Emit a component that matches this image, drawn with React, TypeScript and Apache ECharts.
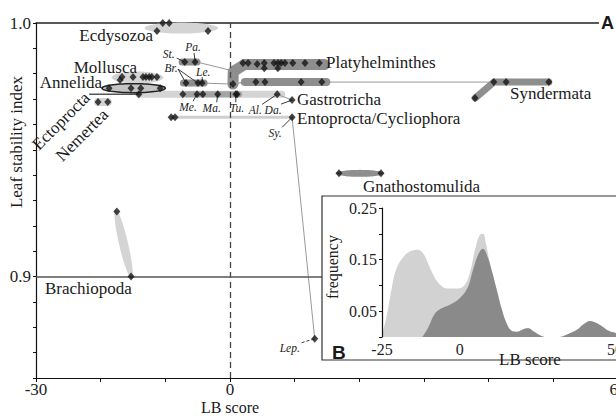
import React, { useEffect, useRef } from "react";
import * as echarts from "echarts";

const SERIF = "'Liberation Serif', 'Times New Roman', Times, serif";
const SANS = "'Liberation Sans', Arial, sans-serif";
const LIGHT = "#d4d4d4";
const MID = "#8e8e8e";

// ---- main panel (A): taxon points [LB score, leaf stability index]
const ecdysozoa = [[-11.3, 0.9968], [-10.4, 1.0], [-9.4, 1.0], [-3.4, 0.9968]];
const mollusca = [[-16.7, 0.9787], [-17.0, 0.9775], [-15.0, 0.9787], [-13.45, 0.9787], [-13.0, 0.9787], [-12.5, 0.9787], [-12.1, 0.9787], [-11.3, 0.9787]];
const annelida = [[-18.7, 0.9743], [-15.3, 0.9743], [-13.8, 0.9743], [-10.8, 0.9743]];
const nemertea = [[-20.4, 0.9688], [-18.9, 0.9688]];
const gastroRow = [[-14.1, 0.9719], [-7.3, 0.9719], [-5.1, 0.9719], [-4.2, 0.9719], [-1.9, 0.9719], [0.9, 0.9719], [1.1, 0.9719], [7.3, 0.9719]];
const gastrotricha = [[9.6, 0.9696]];
const entoprocta = [[-9.1, 0.9628], [-8.5, 0.9628], [9.6, 0.9628]];
const lep = [[13.1, 0.8755]];
const stPa = [[-7.0, 0.9846], [-5.4, 0.9846]];
const brLe = [[-6.8, 0.9763], [-4.95, 0.9763], [-4.3, 0.9763]];
const platyUpper = [[2.0, 0.9842], [2.8, 0.9842], [4.2, 0.9838], [5.3, 0.9842], [6.8, 0.9842], [7.4, 0.9842], [7.9, 0.9842], [8.5, 0.9842], [9.7, 0.9842], [11.6, 0.9842], [13.8, 0.9842], [5.3, 0.9822], [7.4, 0.9822]];
const platyLower = [[0.46, 0.9759], [4.0, 0.9767], [5.4, 0.9767], [11.0, 0.9767], [14.2, 0.9767]];
const syndermata = [[37.9, 0.9704], [40.8, 0.9767], [42.7, 0.9767], [49.3, 0.9767]];
const gnathostomulida = [[16.85, 0.9407], [23.35, 0.9407]];
const brachiopoda = [[-17.5, 0.9257], [-15.3, 0.9]];

const allPoints = [
  ...ecdysozoa, ...mollusca, ...annelida, ...nemertea, ...gastroRow, ...gastrotricha,
  ...entoprocta, ...lep, ...stPa, ...brLe, ...platyUpper, ...platyLower, ...syndermata,
  ...gnathostomulida, ...brachiopoda,
];

// ---- inset panel (B): frequency of LB scores
const lightCurve = [[-25, 0.004], [-23.5, 0.04], [-22, 0.09], [-20.5, 0.13], [-18, 0.156], [-15.5, 0.167], [-13.4, 0.169], [-11.5, 0.16], [-10, 0.14], [-8, 0.115], [-6, 0.1], [-4, 0.094], [-1, 0.094], [1.5, 0.1], [3.3, 0.125], [5, 0.17], [6.5, 0.198], [7.5, 0.2], [8.5, 0.18], [9.5, 0.15]];
const darkCurve = [[-12, 0], [-10, 0.02], [-8, 0.045], [-6, 0.055], [-3, 0.063], [0, 0.075], [2.5, 0.095], [4.3, 0.13], [6, 0.16], [7.5, 0.171], [9, 0.155], [10.5, 0.125], [12, 0.09], [13.5, 0.055], [15, 0.028], [16.5, 0.013], [18.5, 0.01], [20.5, 0.015], [22, 0.017], [24, 0.01], [26, 0.003], [28, 0], [32, 0], [35, 0.006], [38, 0.015], [40, 0.025], [42, 0.031], [44, 0.027], [46, 0.02], [48, 0.012], [50, 0.008], [53, 0.003], [56, 0]];

const mainXLabels = [-30, 0, 60];
const mainYLabels = [0.9, 1.0];
const insetXLabels = [-25, 0, 50];
const insetYLabels = [0.05, 0.15, 0.25];

type Blob = { kind: "ellipse" | "band"; pts: number[][]; w: number; fill: string; stroke?: string };

const blobs: Blob[] = [
  { kind: "ellipse", pts: [[-13.2, 0.998], [-1.85, 0.998]], w: 5.5, fill: LIGHT },
  { kind: "ellipse", pts: [[-18.3, 0.9785], [-10.3, 0.9785]], w: 6, fill: LIGHT },
  { kind: "band", pts: nemertea, w: 8, fill: LIGHT },
  { kind: "band", pts: [[-14.1, 0.9719], [8.0, 0.9719]], w: 7, fill: LIGHT },
  { kind: "band", pts: [[-6.8, 0.9719], [1.4, 0.9719]], w: 6, fill: "#a4a4a4" },
  { kind: "band", pts: [[-21.7, 0.9719], [-14.1, 0.9719]], w: 1.4, fill: "#555" },
  { kind: "band", pts: [[7.3, 0.9719], gastrotricha[0]], w: 1, fill: "#999" },
  { kind: "ellipse", pts: [[-19.8, 0.9743], [-10.0, 0.9743]], w: 4.5, fill: "#c4c4c4", stroke: "#222" },
  { kind: "band", pts: [[-9.1, 0.9628], [9.6, 0.9628]], w: 3, fill: "#cfcfcf" },
  { kind: "band", pts: [entoprocta[2], lep[0]], w: 1, fill: "#999" },
  { kind: "band", pts: [[-7.4, 0.9846], [-5.1, 0.9846]], w: 7, fill: MID },
  { kind: "band", pts: [[-5.1, 0.9846], [0.0, 0.9814]], w: 1, fill: "#999" },
  { kind: "band", pts: [[-7.2, 0.9763], [-4.0, 0.9763]], w: 7, fill: MID },
  { kind: "band", pts: [[-4.0, 0.9763], platyLower[0]], w: 1, fill: "#999" },
  { kind: "band", pts: [platyLower[0], [0.5, 0.9808], [2.2, 0.9836], [14.6, 0.9836]], w: 11, fill: MID },
  { kind: "band", pts: [platyLower[0], [2.3, 0.9767]], w: 1.5, fill: "#aaa" },
  { kind: "band", pts: [[14.9, 0.9767], syndermata[1]], w: 1, fill: "#999" },
  { kind: "band", pts: [[2.3, 0.9767], [14.9, 0.9767]], w: 8, fill: MID },
  { kind: "band", pts: [syndermata[0], syndermata[1], syndermata[3]], w: 7, fill: MID },
  { kind: "ellipse", pts: [[16.4, 0.9407], [23.8, 0.9407]], w: 3.5, fill: MID },
  { kind: "ellipse", pts: [[-17.7, 0.9265], [-15.2, 0.8992]], w: 4.5, fill: LIGHT },
];

type Abbrev = { t: string; at: number[]; extra?: number[]; lx: number; ly: number; sx: number; sy: number; dash?: boolean };
const abbrevs: Abbrev[] = [
  { t: "St.", at: stPa[0], lx: -16, ly: -8, sx: -8, sy: -4 },
  { t: "Pa.", at: stPa[1], lx: -2, ly: -15, sx: -1, sy: -9 },
  { t: "Br.", at: brLe[0], extra: brLe[1], lx: -15, ly: -15, sx: -8, sy: -14 },
  { t: "Le.", at: brLe[2], lx: 1, ly: -11, sx: 0, sy: -6 },
  { t: "Me.", at: gastroRow[2], lx: -9, ly: 13, sx: -4, sy: 7 },
  { t: "Ma.", at: gastroRow[4], lx: -6, ly: 14, sx: -1, sy: 8 },
  { t: "Tu.", at: gastroRow[5], lx: 1, ly: 14, sx: 0, sy: 8 },
  { t: "Al.", at: gastroRow[7], lx: -22, ly: 16, sx: -15, sy: 10 },
  { t: "Da.", at: gastrotricha[0], lx: -19, ly: 10, sx: -11, sy: 4 },
  { t: "Sy.", at: entoprocta[2], lx: -17, ly: 16, sx: -10, sy: 10 },
  { t: "Lep.", at: lep[0], lx: -25, ly: 9, sx: -13, sy: 4, dash: true },
];

const near = (v: number, arr: number[]) => arr.some((a) => Math.abs(a - v) < 1e-6);

function renderBlob(params: any, api: any) {
  const b = blobs[api.value(0)];
  const px = b.pts.map((p) => api.coord(p));
  if (b.kind === "ellipse") {
    const [x1, y1] = px[0];
    const [x2, y2] = px[1];
    const cx = (x1 + x2) / 2, cy = (y1 + y2) / 2;
    const a = Math.hypot(x2 - x1, y2 - y1) / 2;
    const ux = (x2 - x1) / (2 * a), uy = (y2 - y1) / (2 * a);
    const nx = -uy, ny = ux;
    const poly: number[][] = [];
    for (let i = 0; i < 72; i++) {
      const t = (i / 72) * Math.PI * 2;
      poly.push([cx + ux * a * Math.cos(t) + nx * b.w * Math.sin(t), cy + uy * a * Math.cos(t) + ny * b.w * Math.sin(t)]);
    }
    return { type: "polygon", shape: { points: poly }, style: { fill: b.fill, stroke: b.stroke || null, lineWidth: b.stroke ? 1.5 : 0 } };
  }
  return { type: "polyline", shape: { points: px }, style: { stroke: b.fill, fill: null, lineWidth: b.w, lineCap: "round", lineJoin: "round" } };
}

function renderAbbrev(params: any, api: any) {
  const a = abbrevs[api.value(0)];
  const [tx, ty] = api.coord(a.at);
  const sx = tx + a.sx, sy = ty + a.sy;
  const ls = { stroke: "#222", lineWidth: 0.9, lineDash: a.dash ? [3, 2] : null };
  const children: any[] = [{ type: "line", shape: { x1: sx, y1: sy, x2: tx, y2: ty }, style: ls }];
  if (a.extra) {
    const [ex, ey] = api.coord(a.extra);
    children.push({ type: "line", shape: { x1: sx, y1: sy, x2: ex, y2: ey }, style: ls });
  }
  children.push({
    type: "text", x: tx + a.lx, y: ty + a.ly,
    style: { text: a.t, fill: "#222", fontSize: 11.5, fontStyle: "italic", fontFamily: SERIF, align: "center", verticalAlign: "middle" },
  });
  return { type: "group", children };
}

const txt = (text: string, x: number, y: number, opts: any = {}) => ({
  type: "text", x, y, rotation: opts.rotation || 0, z: opts.z ?? 6,
  style: {
    text, fill: "#1a1a1a", fontSize: opts.size || 17, fontFamily: opts.family || SERIF,
    fontWeight: opts.weight || "normal", align: opts.align || "left", verticalAlign: "middle",
  },
});

export default function App() {
  const ref = useRef<HTMLDivElement>(null);
  useEffect(() => {
    const chart = echarts.init(ref.current!, null, { renderer: "svg" });
    const option: any = {
      animation: false,
      backgroundColor: "#fff",
      textStyle: { fontFamily: SERIF },
      grid: [
        { left: 36, top: 23, right: -2, bottom: 38, outerBoundsMode: "none" },
        { left: 382, top: 208, right: -30, bottom: 79, outerBoundsMode: "none" },
      ],
      xAxis: [
        {
          gridIndex: 0, type: "value", min: -30, max: 60, interval: 10,
          axisLine: { onZero: false, lineStyle: { color: "#111", width: 1.2 } },
          axisTick: { length: 4, lineStyle: { color: "#111" } },
          splitLine: { show: false },
          axisLabel: { formatter: (v: number) => (near(v, mainXLabels) ? String(v) : ""), fontSize: 17, color: "#222", fontFamily: SERIF, margin: 3 },
        },
        {
          gridIndex: 0, type: "value", position: "top", min: -30, max: 60,
          axisLine: { onZero: false, lineStyle: { color: "#222", width: 1.5 } },
          axisTick: { show: false }, axisLabel: { show: false }, splitLine: { show: false },
        },
        {
          gridIndex: 1, type: "value", min: -25, max: 60, interval: 25, z: 20,
          axisLine: { show: false, onZero: false }, axisTick: { show: false }, splitLine: { show: false },
          axisLabel: { formatter: (v: number) => (near(v, insetXLabels) ? String(v) : ""), fontSize: 16, color: "#222", fontFamily: SERIF, margin: 4 },
        },
      ],
      yAxis: [
        {
          gridIndex: 0, type: "value", min: 0.86, max: 1.0, interval: 0.01,
          axisLine: { show: true, onZero: false, lineStyle: { color: "#111", width: 1.2 } },
          axisTick: { show: true, length: 3, lineStyle: { color: "#111" } },
          splitLine: { show: false },
          axisLabel: { formatter: (v: number) => (near(v, mainYLabels) ? v.toFixed(1) : ""), fontSize: 17, color: "#222", fontFamily: SERIF, margin: 5 },
        },
        {
          gridIndex: 1, type: "value", min: 0, max: 0.25, interval: 0.05, z: 20,
          axisLine: { show: true, onZero: false, lineStyle: { color: "#111", width: 1.2 } },
          axisTick: { show: true, length: 3, lineStyle: { color: "#111" } },
          splitLine: { show: false },
          axisLabel: { formatter: (v: number) => (near(v, insetYLabels) ? v.toFixed(2) : ""), fontSize: 16, color: "#222", fontFamily: SERIF, margin: 5 },
        },
      ],
      graphic: [
        { type: "rect", z: 10, shape: { x: 322, y: 196, width: 320, height: 164 }, style: { fill: "#fff", stroke: "#333", lineWidth: 1.2 } },
        { type: "rect", z: 5, shape: { x: 599, y: 12, width: 20, height: 22 }, style: { fill: "#fff" } },
        txt("A", 601, 23, { family: SANS, weight: "bold", size: 18 }),
        txt("Ecdysozoa", 153, 35, { align: "right" }),
        txt("Mollusca", 137, 67, { align: "right" }),
        txt("Annelida", 102, 82, { align: "right" }),
        txt("Ectoprocta", 61, 121, { align: "center", rotation: Math.PI / 4 }),
        txt("Nemertea", 82, 135, { align: "center", rotation: Math.PI / 4 }),
        txt("Brachiopoda", 45, 288),
        txt("Platyhelminthes", 326, 62),
        txt("Gastrotricha", 297, 99),
        txt("Entoprocta/Cycliophora", 297, 118),
        txt("Syndermata", 510, 93),
        txt("Gnathostomulida", 363, 186),
        txt("Leaf stability index", 16, 142, { align: "center", rotation: Math.PI / 2 }),
        txt("LB score", 230, 407, { align: "center", size: 16 }),
        txt("frequency", 332, 267, { align: "center", rotation: Math.PI / 2, z: 30, size: 16 }),
        txt("LB score", 530, 359, { align: "center", z: 30 }),
        txt("B", 332, 352, { family: SANS, weight: "bold", size: 19, z: 30 }),
      ],
      series: [
        {
          type: "custom", xAxisIndex: 0, yAxisIndex: 0, z: 1, silent: true,
          data: blobs.map((_, i) => [i, 0.95]), renderItem: renderBlob,
        },
        {
          type: "custom", xAxisIndex: 0, yAxisIndex: 0, z: 3, silent: true,
          data: abbrevs.map((_, i) => [i, 0.95]), renderItem: renderAbbrev,
        },
        {
          type: "scatter", xAxisIndex: 0, yAxisIndex: 0, z: 5, silent: true,
          symbol: "diamond", symbolSize: [7, 8],
          itemStyle: { color: "#151515" },
          data: allPoints,
          markLine: {
            silent: true, symbol: ["none", "none"], label: { show: false },
            data: [
              { xAxis: 0, lineStyle: { color: "#444", width: 1.3, type: [6, 4] } },
              { yAxis: 0.9, lineStyle: { color: "#555", width: 1.5, type: "solid" } },
            ],
          },
        },
        {
          type: "line", xAxisIndex: 2, yAxisIndex: 1, z: 20, smooth: 0.4, showSymbol: false, silent: true,
          lineStyle: { width: 0 }, areaStyle: { color: "#d2d2d2", opacity: 1 },
          data: lightCurve.concat(darkCurve.filter((p) => p[0] > 10)),
        },
        {
          type: "line", xAxisIndex: 2, yAxisIndex: 1, z: 21, smooth: 0.4, showSymbol: false, silent: true,
          lineStyle: { width: 0 }, areaStyle: { color: "#8a8a8a", opacity: 1 },
          data: darkCurve,
          markLine: {
            silent: true, symbol: ["none", "none"], label: { show: false },
            data: [{ yAxis: 0.25, lineStyle: { color: "#111", width: 1.2, type: "solid" } }],
          },
        },
      ],
    };
    chart.setOption(option);
    return () => chart.dispose();
  }, []);
  return <div ref={ref} style={{ position: "fixed", left: 0, top: 0, width: 616, height: 416, background: "#fff" }} />;
}
